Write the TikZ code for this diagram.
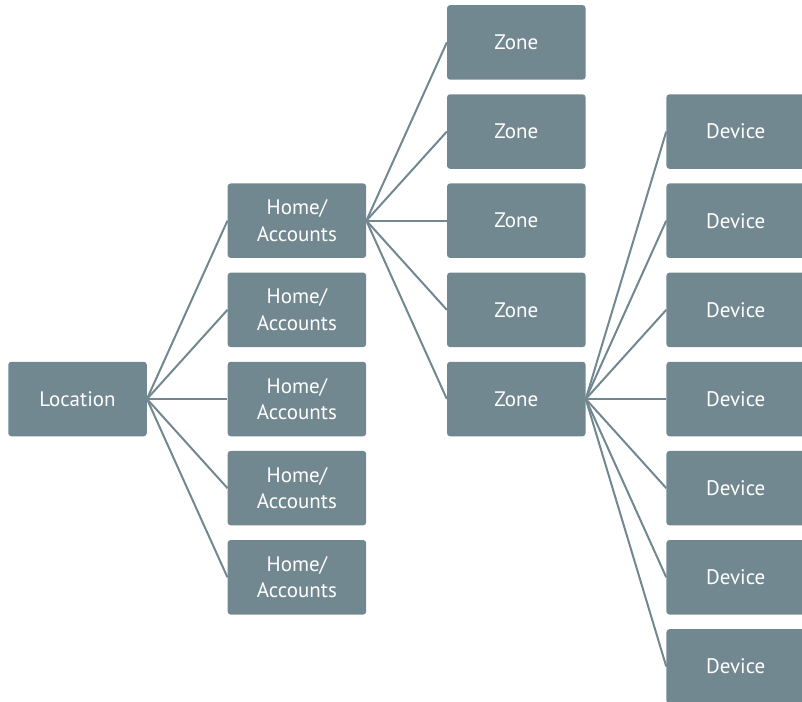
\documentclass[tikz,border=0pt]{standalone}
\usepackage{fontspec}
\setmainfont{PT Sans}
\usetikzlibrary{positioning}
\definecolor{treegray}{RGB}{114,136,145}
\tikzset {
  tree node/.style = {
    fill = treegray,
    text = white,
    rounded corners = 3pt,
    minimum width = 138.5pt,
    minimum height = 74.5pt,
    inner sep = 0,
    align = center,
    font = \fontsize{21}{26.5}\selectfont
  },
  % level nodes
  loc/.style = {
    tree node
  },
  home/.style = {
    tree node
  },
  zone/.style = {
    tree node
  },
  device/.style = {
    tree node
  },
  % connector
  branch/.style = {
    draw = treegray,
    line width = 2pt
  },
  node distance = 14.25pt and 80.5pt
}

\begin{document}
\begin{tikzpicture}[x=1pt, y=1pt]
    \useasboundingbox (0,0) rectangle (802,-701);
    \clip (0,0) rectangle (802,-701);

    \node[loc] (location) at (77.5,-399) {Location};

    \node[home] (home 3) [right=of location] {Home/\\Accounts};
    \node[home] (home 2) [above=of home 3] {Home/\\Accounts};
    \node[home] (home 1) [above=of home 2] {Home/\\Accounts};
    \node[home] (home 4) [below=of home 3] {Home/\\Accounts};
    \node[home] (home 5) [below=of home 4] {Home/\\Accounts};

    \node[zone] (zone 5) [right=of home 3] {Zone};
    \node[zone] (zone 4) [above=of zone 5] {Zone};
    \node[zone] (zone 3) [above=of zone 4] {Zone};
    \node[zone] (zone 2) [above=of zone 3] {Zone};
    \node[zone] (zone 1) [above=of zone 2] {Zone};

    \node[device] (device 4) [right=of zone 5] {Device};
    \node[device] (device 3) [above=of device 4] {Device};
    \node[device] (device 2) [above=of device 3] {Device};
    \node[device] (device 1) [above=of device 2] {Device};
    \node[device] (device 5) [below=of device 4] {Device};
    \node[device] (device 6) [below=of device 5] {Device};
    \node[device] (device 7) [below=of device 6] {Device};

    % location to homes
    \draw[branch] (location.east) -- (home 1.west);
    \draw[branch] (location.east) -- (home 2.west);
    \draw[branch] (location.east) -- (home 3.west);
    \draw[branch] (location.east) -- (home 4.west);
    \draw[branch] (location.east) -- (home 5.west);

    % home to zones
    \draw[branch] (home 1.east) -- (zone 1.west);
    \draw[branch] (home 1.east) -- (zone 2.west);
    \draw[branch] (home 1.east) -- (zone 3.west);
    \draw[branch] (home 1.east) -- (zone 4.west);
    \draw[branch] (home 1.east) -- (zone 5.west);

    % zone to devices
    \draw[branch] (zone 5.east) -- (device 1.west);
    \draw[branch] (zone 5.east) -- (device 2.west);
    \draw[branch] (zone 5.east) -- (device 3.west);
    \draw[branch] (zone 5.east) -- (device 4.west);
    \draw[branch] (zone 5.east) -- (device 5.west);
    \draw[branch] (zone 5.east) -- (device 6.west);
    \draw[branch] (zone 5.east) -- (device 7.west);
\end{tikzpicture}
\end{document}
